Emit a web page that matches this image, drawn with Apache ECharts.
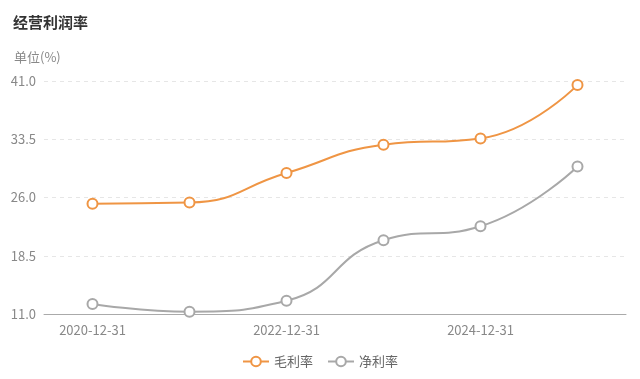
<!DOCTYPE html>
<html><head><meta charset="utf-8">
<script src="https://cdn.jsdelivr.net/npm/echarts@6/dist/echarts.min.js"></script>
<style>html,body{margin:0;padding:0;background:#fff}#c{width:640px;height:379px}</style>
</head><body><div id="c"></div>
<script>
const categories = ['2020-12-31','2021-12-31','2022-12-31','2023-12-31','2024-12-31','2025-12-31'];
const grossMargin = [25.2, 25.35, 29.15, 32.8, 33.6, 40.5];
const netMargin = [12.3, 11.3, 12.7, 20.5, 22.3, 30.0];
const seriesNames = ['毛利率','净利率'];
const yTicks = {min: 11, max: 41, interval: 7.5};
const font = '"Noto Sans CJK SC","Noto Sans",sans-serif';
const chart = echarts.init(document.getElementById('c'));
chart.setOption({
  textStyle:{fontFamily:font},
  title:[
    {text:'经营利润率', left:8, top:10, textStyle:{fontSize:15, fontWeight:'bold', color:'#333', fontFamily:font}},
    {text:'单位(%)', left:9, top:46, textStyle:{fontSize:13, fontWeight:'normal', color:'#888', fontFamily:font}}
  ],
  legend:{bottom:6, left:'center', itemWidth:26, itemHeight:12, itemGap:14,
    textStyle:{fontSize:13, color:'#666', fontFamily:font},
    data:seriesNames},
  grid:{left:44, right:14, top:81, bottom:65},
  xAxis:{type:'category', data:categories, boundaryGap:true,
    axisLine:{lineStyle:{color:'#aaa'}},
    axisTick:{alignWithLabel:true, interval:1, lineStyle:{color:'#aaa'}},
    axisLabel:{interval:1, color:'#888', fontSize:13, margin:10, fontFamily:font}},
  yAxis:{type:'value', min:yTicks.min, max:yTicks.max, interval:yTicks.interval,
    axisLabel:{formatter:v=>v.toFixed(1), color:'#888', fontSize:13, margin:8, fontFamily:font},
    axisLine:{show:false}, axisTick:{show:false},
    splitLine:{lineStyle:{color:'#e6e6e6', type:[4,4]}}},
  series:[
    {name:seriesNames[0], type:'line', data:grossMargin, smooth:true, symbol:'emptyCircle', symbolSize:10,
      itemStyle:{color:'#ef9544', borderWidth:2}, lineStyle:{width:2, color:'#ef9544'}},
    {name:seriesNames[1], type:'line', data:netMargin, smooth:true, symbol:'emptyCircle', symbolSize:10,
      itemStyle:{color:'#a8a8a8', borderWidth:2}, lineStyle:{width:2, color:'#a8a8a8'}}
  ]
});
</script></body></html>
